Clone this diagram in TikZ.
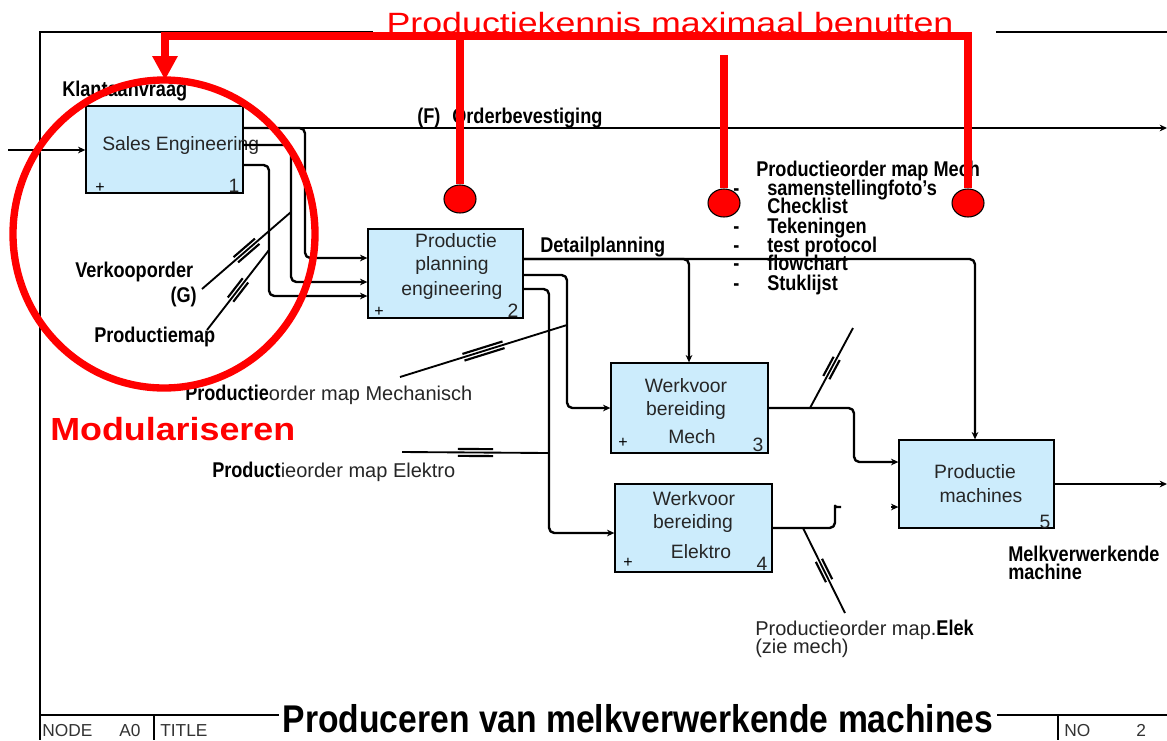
\documentclass[tikz,border=0pt]{standalone}
\usepackage{fontspec}
\setmainfont{Liberation Sans}
\usetikzlibrary{arrows.meta,calc,fit,shapes.geometric}
\definecolor{boxblue}{RGB}{204,236,252}
\definecolor{idefred}{RGB}{255,0,0}
% condensed bold label text and regular label text
\newcommand\bl[1]{\scalebox{0.85}[1]{\fontsize{16}{18}\selectfont\bfseries #1}}
\newcommand\rg[1]{{\color{black!85}\fontsize{15}{18}\selectfont #1}}
% IDEF0 squiggle: a tie line with a doubled stroke in its middle
\newcommand\squig[2]{%
  \draw[squigline] (#1) -- (#2);
  \draw[squigbar] ($(#1)!0.38!(#2)!2.6pt!90:(#2)$) -- ($(#1)!0.62!(#2)!2.6pt!90:(#2)$);
  \draw[squigbar] ($(#1)!0.38!(#2)!2.6pt!-90:(#2)$) -- ($(#1)!0.62!(#2)!2.6pt!-90:(#2)$);
}
\tikzset{
  frame/.style={line width=1.5pt},
  box/.style={draw, line width=1pt, fill=boxblue, inner sep=0pt},
  boxtext/.style={anchor=base, inner sep=0pt, font=\fontsize{14.5}{17}\selectfont, text=black!85},
  plus/.style={inner sep=0pt, font=\fontsize{12}{14}\selectfont},
  conn/.style={line width=1.8pt, rounded corners=4pt, line join=round},
  arr/.style={-{Stealth[length=5.5pt,width=5pt]}},
  squigline/.style={line width=1.4pt},
  squigbar/.style={line width=1.6pt},
  lbl/.style={anchor=base west, inner sep=0pt},
  foot/.style={anchor=base west, inner sep=0pt, font=\fontsize{13}{15}\selectfont, text=black!80},
  redline/.style={draw=idefred, line width=5.5pt, line join=miter},
  redball/.style={ellipse, draw=black, line width=0.8pt, fill=idefred,
    minimum width=24pt, minimum height=21pt, inner sep=0pt},
}
\begin{document}
\begin{tikzpicture}[x=0.75pt,y=-0.75pt]
\useasboundingbox (0,0) rectangle (1167,740);
\fill[white] (0,0) rectangle (1167,740);

% diagram frame and title block
\draw[frame] (373,32) -- (40,32) -- (40,740);
\draw[frame] (996,32) -- (1167,32);
\draw[frame] (40,715) -- (279,715);
\draw[frame] (997,715) -- (1167,715);
\draw[frame] (154,715) -- (154,740);
\draw[frame] (1058,715) -- (1058,740);
\node[foot] (fnode) at (42,736) {NODE};
\node[foot] (fa0) at (119,736) {A0};
\node[foot] (ftitle) at (160,736) {TITLE};
\node[foot] (fno) at (1064,736) {NO};
\node[foot] (fnum) at (1136,736) {2};
\node[anchor=base, inner sep=0pt] (title) at (638,732)
  {\scalebox{0.87}[1]{\fontsize{29}{34}\selectfont\bfseries Produceren van melkverwerkende machines}};

% activity boxes
\node[box, fit={(86,106) (243,193)}] (b1) {};
\node[box, fit={(368,229) (523,318)}] (b2) {};
\node[box, fit={(611,363) (768,453)}] (b3) {};
\node[box, fit={(615,484) (772,572)}] (b4) {};
\node[box, fit={(899,440) (1054,528)}] (b5) {};

\node[boxtext, anchor=base west] (t1) at (102,150) {Sales Engineering};
\foreach \txt/\px/\py [count=\k] in {Productie/456/247, planning/452/270, engineering/452/295,
    Werkvoor/686/392, bereiding/686/415, Mech/692/443,
    Werkvoor/694/505, bereiding/693/528, Elektro/701/558,
    Productie/975/478, machines/981/502}
  \node[boxtext] (bt\k) at (\px,\py) {\txt};
\foreach \n/\px/\py in {1/234/192, 2/513/317, 3/758/451, 4/762/570, 5/1045/528}
  \node[boxtext] (num\n) at (\px,\py) {\n};
\foreach \n/\px/\py in {1/100/188, 2/379/312, 3/623/443, 4/628/563}
  \node[plus] (plus\n) at (\px,\py) {+};

% arrows between activities
\coordinate (inL) at (8,150);
\coordinate (outF) at (1167,128);
\coordinate (outM) at (1167,484);
\coordinate (stub5) at (891,507);
\draw[conn, arr] (inL) -- (b1.west |- inL);
\draw[line width=1.5pt, arr] (b1.east |- outF) -- (outF);
\draw[conn, arr] (b1.east |- 0,128) -- (305,128) -- (305,258) -- (b2.west |- 0,258);
\draw[conn, arr] (b1.east |- 0,145) -- (291,145) -- (291,282) -- (b2.west |- 0,282);
\draw[conn, arr] (b1.east |- 0,165) -- (269,165) -- (269,296) -- (b2.west |- 0,296);
\draw[conn, arr] (b2.east |- 0,259) -- (975,259) -- (b5.north -| 975,0);
\draw[conn, arr] (b2.east |- 0,259) -- (689,259) -- (b3.north -| 689,0);
\draw[conn, arr] (b2.east |- 0,275) -- (567,275) -- (567,408) -- (b3.west |- 0,408);
\draw[conn, arr] (b2.east |- 0,289) -- (549,289) -- (549,533) -- (b4.west |- 0,533);
\draw[conn, arr] (b3.east |- 0,408) -- (854,408) -- (854,462) -- (b5.west |- 0,462);
\draw[conn] (b4.east |- 0,528) -- (835,528) -- (835,511) .. controls (835,507) .. (841,507);
\draw[conn, arr] (stub5) -- (b5.west |- stub5);
\draw[line width=1.5pt, arr] (b5.east |- outM) -- (outM);

% tie lines with squiggles
\coordinate (sqA1) at (202,289); \coordinate (sqB1) at (291,212);
\coordinate (sqA2) at (207,330); \coordinate (sqB2) at (269,250);
\coordinate (sqA3) at (400,377); \coordinate (sqB3) at (567,325);
\coordinate (sqA4) at (402,452); \coordinate (sqB4) at (549,453);
\coordinate (sqA5) at (853,328); \coordinate (sqB5) at (810,408);
\coordinate (sqA6) at (845,613); \coordinate (sqB6) at (803,528);
\squig{sqA1}{sqB1}
\squig{sqA2}{sqB2}
\squig{sqA3}{sqB3}
\squig{sqA4}{sqB4}
\squig{sqA5}{sqB5}
\squig{sqA6}{sqB6}

% arrow labels
\node[lbl] (klant) at (62,96) {\bl{Klantaanvraag}};
\node[lbl] (fmark) at (417,123) {\bl{(F)}};
\node[lbl] (orderb) at (452,123) {\bl{Orderbevestiging}};
\node[lbl] (verk) at (75,277) {\bl{Verkooporder}};
\node[lbl, anchor=base east] (gmark) at (197,302) {\bl{(G)}};
\node[lbl] (pmap) at (94,342) {\bl{Productiemap}};
\node[lbl] (detail) at (540,252) {\bl{Detailplanning}};
\node[lbl] (pmech) at (185,400) {\bl{Productie}\rg{order map Mechanisch}};
\node[lbl] (pelek) at (212,477) {\bl{Product}\rg{ieorder map Elektro}};
\node[lbl] (melk1) at (1008,561) {\bl{Melkverwerkende}};
\node[lbl] (melk2) at (1008,579) {\bl{machine}};
\node[lbl] (elek1) at (755,635) {\rg{Productieorder map.}\bl{Elek}};
\node[lbl] (elek2) at (755,653) {\rg{(zie mech)}};

% contents of the mechanical production order map
\node[lbl] (maphead) at (756,176) {\bl{Productieorder map Mech}};
\foreach \item/\py [count=\k] in {samenstellingfoto's/195, Checklist/213, Tekeningen/233,
    test protocol/252, flowchart/270, Stuklijst/290} {
  \node[lbl] (dash\k) at (733,\py) {\bl{-}};
  \node[lbl] (item\k) at (767,\py) {\bl{\item}};
}

% knowledge reuse and modularisation overlay
\node[redball] (rc1) at (460,199) {};
\node[redball] (rc2) at (724,203) {};
\node[redball] (rc3) at (968,203) {};
\coordinate (rtop2) at (724,55);
\coordinate (rtip) at (165,80);
\draw[redline] (rc1.north) -- (460,36);
\draw[redline] (rc2.north) -- (rtop2);
\draw[redline, -{Triangle[length=18pt,width=18pt]}] (rc3.north) -- (968,36) -- (165,36) -- (rtip);
\node[draw=idefred, line width=5.5pt, ellipse, minimum width=226.5pt, minimum height=231pt,
  inner sep=0pt] (modring) at (164,234) {};
\node[anchor=base, inner sep=0pt, text=idefred] (kennis) at (670,33)
  {\scalebox{1.22}[1]{\fontsize{22}{26}\selectfont Productiekennis maximaal benutten}};
\node[anchor=base west, inner sep=0pt, text=idefred] (modul) at (50,440)
  {\scalebox{1.12}[1]{\fontsize{24}{28}\selectfont\bfseries Modulariseren}};
\end{tikzpicture}
\end{document}
